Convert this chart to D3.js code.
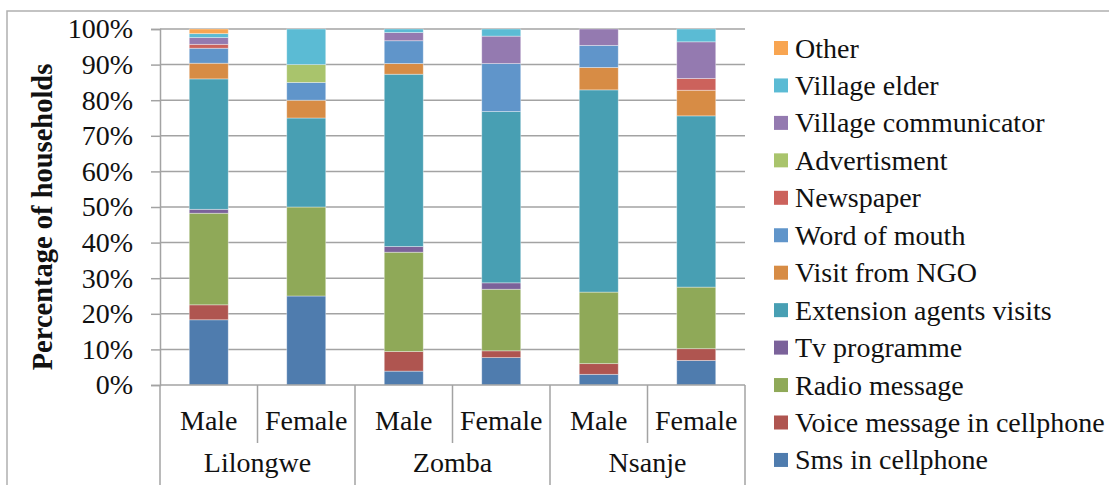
<!DOCTYPE html>
<html>
<head>
<meta charset="utf-8">
<script src="https://cdn.jsdelivr.net/npm/d3@7"></script>
<style>
  html, body { margin: 0; padding: 0; background: #fff; }
  svg { display: block; font-family: "Liberation Serif", "Times New Roman", serif; }
</style>
</head>
<body>
<svg id="chart" width="1109" height="485"></svg>
<script>
// ---- Data ----
const regions = ["Lilongwe", "Zomba", "Nsanje"];
const genders = ["Male", "Female"];
const groups = ["Lilongwe-Male", "Lilongwe-Female", "Zomba-Male", "Zomba-Female", "Nsanje-Male", "Nsanje-Female"];
const seriesNames = ["Sms in cellphone", "Voice message in cellphone", "Radio message", "Tv programme",
  "Extension agents visits", "Visit from NGO", "Word of mouth", "Newspaper", "Advertisment",
  "Village communicator", "Village elder", "Other"];
const sms        = [18.3, 25, 3.9, 7.7, 3.0, 6.9];
const voice      = [4.2, 0, 5.5, 1.9, 3.0, 3.3];
const radio      = [25.7, 25, 27.9, 17.3, 20.1, 17.3];
const tv         = [1.1, 0, 1.6, 1.8, 0, 0];
const extension  = [36.6, 25, 48.4, 48.1, 56.8, 48.1];
const ngo        = [4.4, 5, 3.0, 0, 6.3, 7.2];
const wordMouth  = [4.2, 5, 6.4, 13.5, 6.2, 0];
const newspaper  = [1.1, 0, 0, 0, 0, 3.3];
const advert     = [0, 5, 0, 0, 0, 0];
const villComm   = [1.9, 0, 2.3, 7.7, 4.6, 10.3];
const villElder  = [1.1, 10, 1.0, 2.0, 0, 3.6];
const other      = [1.3, 0, 0, 0, 0, 0];
const yTicks = [0, 0.1, 0.2, 0.3, 0.4, 0.5, 0.6, 0.7, 0.8, 0.9, 1.0];
const colors = ["#4F7CAE", "#AF5550", "#8FA958", "#7B629A", "#489FB3", "#D78C45",
  "#6095CA", "#CC625C", "#A9C46C", "#947AB0", "#5BBBD4", "#F8A551"];

const seriesValues = [sms, voice, radio, tv, extension, ngo, wordMouth, newspaper, advert, villComm, villElder, other];
const table = groups.map((g, i) => {
  const row = { group: g };
  seriesNames.forEach((s, j) => row[s] = seriesValues[j][i]);
  return row;
});

// ---- Layout ----
const svg = d3.select("#chart");
const pLeft = 160, pRight = 745, pTop = 29, pBottom = 385;
const font = "Liberation Serif";
const fs = 28;

// outer border
svg.append("path").attr("d", `M7,490 V11 H1115`).attr("fill", "none")
  .attr("stroke", "#b0b0b0").attr("stroke-width", 1.5);

const x = d3.scaleBand().domain(groups).range([pLeft, pRight]).paddingInner(0.6).paddingOuter(0.3);
const y = d3.scaleLinear().domain([0, 1]).range([pBottom, pTop]);

// gridlines
svg.append("g").selectAll("line").data(yTicks.filter(d => d > 0)).join("line")
  .attr("x1", pLeft).attr("x2", pRight)
  .attr("y1", d => y(d)).attr("y2", d => y(d))
  .attr("stroke", "#a3a3a3").attr("stroke-width", 1.5);

// stacked bars
const stack = d3.stack().keys(seriesNames).offset(d3.stackOffsetExpand);
const stacked = stack(table);
svg.append("g").selectAll("g").data(stacked).join("g")
  .attr("fill", (d, i) => colors[i])
  .selectAll("rect").data(d => d).join("rect")
  .attr("x", d => x(d.data.group))
  .attr("width", x.bandwidth())
  .attr("y", d => y(d[1]))
  .attr("height", d => Math.max(0, y(d[0]) - y(d[1])))
  .attr("stroke", d => (d[1] - d[0]) > 0 ? "rgba(255,255,255,0.45)" : "none")
  .attr("stroke-width", 0.8);

// y axis
const yAxis = svg.append("g").attr("transform", `translate(${pLeft},0)`)
  .call(d3.axisLeft(y).tickValues(yTicks).tickFormat(d3.format(".0%")).tickSize(9).tickPadding(18));
yAxis.select(".domain").attr("stroke", "#a3a3a3").attr("stroke-width", 1.5);
yAxis.selectAll(".tick line").attr("stroke", "#a3a3a3").attr("stroke-width", 1.5);
yAxis.selectAll(".tick text").attr("font-family", font).attr("font-size", fs).attr("fill", "#111");

// y title
svg.append("text").attr("transform", `translate(52,${(pTop + pBottom) / 2 + 10}) rotate(-90)`)
  .attr("text-anchor", "middle").attr("font-family", font).attr("font-weight", "bold")
  .attr("font-size", 28.5).attr("fill", "#111").text("Percentage of households");

// x axis (multi-level)
const step = x.step();
const gx = svg.append("g");
gx.append("line").attr("x1", pLeft).attr("x2", pRight).attr("y1", pBottom).attr("y2", pBottom)
  .attr("stroke", "#a3a3a3").attr("stroke-width", 1.5);
d3.range(groups.length + 1).forEach(i => {
  const xx = pLeft + step * i;
  const outer = i % 2 === 0;
  gx.append("line").attr("x1", xx).attr("x2", xx).attr("y1", pBottom)
    .attr("y2", outer ? 490 : 443)
    .attr("stroke", "#a3a3a3").attr("stroke-width", 1.5);
});
gx.selectAll("text.g").data(groups).join("text").attr("class", "g")
  .attr("x", d => x(d) + x.bandwidth() / 2).attr("y", 430)
  .attr("text-anchor", "middle").attr("font-family", font).attr("font-size", fs).attr("fill", "#111")
  .text(d => d.split("-")[1]);
gx.selectAll("text.r").data(regions).join("text").attr("class", "r")
  .attr("x", (d, i) => pLeft + step * (2 * i + 1)).attr("y", 472)
  .attr("text-anchor", "middle").attr("font-family", font).attr("font-size", fs).attr("fill", "#111")
  .text(d => d);

// legend (reverse order: Other on top)
const legendNames = seriesNames.slice().reverse();
const lg = svg.append("g");
const rowH = 37.45;
legendNames.forEach((name, i) => {
  const cy = 48 + i * rowH;
  lg.append("rect").attr("x", 774).attr("y", cy - 7).attr("width", 14).attr("height", 14)
    .attr("fill", colors[seriesNames.indexOf(name)]);
  lg.append("text").attr("x", 795).attr("y", cy + 9.5)
    .attr("font-family", font).attr("font-size", fs).attr("fill", "#111").text(name);
});
</script>
</body>
</html>
